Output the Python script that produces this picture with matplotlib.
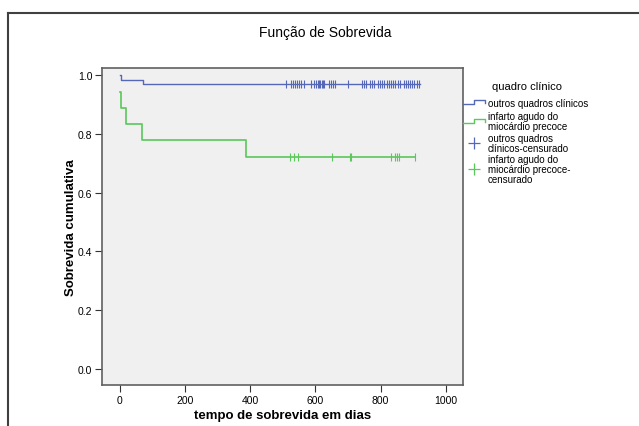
import numpy as np
import matplotlib.pyplot as plt
from matplotlib.lines import Line2D

plt.rcParams['font.family'] = ['Liberation Sans', 'DejaVu Sans']

# Kaplan-Meier steps: (time, survival after the event)
outros_t = [0, 3, 70, 920]
outros_s = [1.0, 0.984, 0.968, 0.968]
infarto_t = [0, 3, 18, 68, 387, 906]
infarto_s = [0.944, 0.889, 0.833, 0.778, 0.722, 0.722]

# censored times
outros_cens = [510, 525, 532, 538, 544, 550, 557, 564, 588, 595, 602, 607, 611,
               615, 619, 623, 627, 643, 649, 655, 661, 699, 742, 748, 754, 768,
               774, 780, 792, 798, 805, 811, 819, 826, 832, 839, 845, 852, 860,
               872, 878, 884, 890, 896, 903, 911, 918]
infarto_cens = [522, 535, 548, 652, 707, 710, 832, 844, 851, 857, 906]

blue = '#5467b9'
green = '#5ac85a'

fig = plt.figure(figsize=(6.39, 4.27), dpi=100)
ax = fig.add_axes([102/639, 1-386/427, 361/639, 317/427])
ax.set_facecolor('#f0f0f0')

ax.step(outros_t, outros_s, where='post', color=blue, lw=1)
ax.step(infarto_t, infarto_s, where='post', color=green, lw=1.2)
ax.plot(outros_cens, [outros_s[-1]] * len(outros_cens), ls='none', marker='|',
        ms=6, mew=0.8, color=blue)
ax.plot(infarto_cens, [infarto_s[-1]] * len(infarto_cens), ls='none', marker='|',
        ms=6, mew=0.8, color=green)

ax.set_xlim(-55, 1053)
ax.set_ylim(-0.054, 1.024)
ax.set_xticks([0, 200, 400, 600, 800, 1000])
ax.set_yticks([0.0, 0.2, 0.4, 0.6, 0.8, 1.0])
ax.set_yticklabels(['0.0', '0.2', '0.4', '0.6', '0.8', '1.0'])
ax.tick_params(labelsize=7.5, length=5, width=0.8, pad=2, color='#333333')
for s in ax.spines.values():
    s.set_color('#606060')
    s.set_linewidth(1.2)

ax.set_xlabel('tempo de sobrevida em dias', fontsize=9.5, fontweight='bold', labelpad=3)
ax.set_ylabel('Sobrevida cumulativa', fontsize=9.5, fontweight='bold')
ax.yaxis.set_label_coords(-0.069, 0.5)
fig.text(325/639, 1-33/427, 'Função de Sobrevida', fontsize=10, ha='center', va='center')

# outer frame
fig.add_artist(Line2D([8/639, 8/639], [0, 1-14/427], color='#404040', lw=1.5))
fig.add_artist(Line2D([8/639, 1], [1-14/427, 1-14/427], color='#404040', lw=1.5))

# legend
def fx(x):
    return x / 639

def fy(y):
    return 1 - y / 427

fig.text(fx(527), fy(87), 'quadro clínico', fontsize=8, ha='center', va='center')
for y, c in [(103, blue), (122, green)]:
    fig.add_artist(Line2D([fx(463), fx(474), fx(474), fx(485), fx(485)],
                          [fy(y + 2), fy(y + 2), fy(y - 2), fy(y - 2), fy(y + 1)],
                          color=c, lw=1))
for y, c in [(144, blue), (170, green)]:
    fig.add_artist(Line2D([fx(474)], [fy(y)], marker='+', ms=8, mew=0.9, color=c, ls='none'))
fig.text(fx(488), fy(104), 'outros quadros clínicos', fontsize=7, va='center')
fig.text(fx(488), fy(122), 'infarto agudo do\nmiocárdio precoce', fontsize=7, va='center',
         linespacing=0.95)
fig.text(fx(488), fy(144), 'outros quadros\nclínicos-censurado', fontsize=7, va='center',
         linespacing=0.95)
fig.text(fx(488), fy(170), 'infarto agudo do\nmiocárdio precoce-\ncensurado', fontsize=7,
         va='center', linespacing=0.95)

fig.savefig('out.png', dpi=100)
